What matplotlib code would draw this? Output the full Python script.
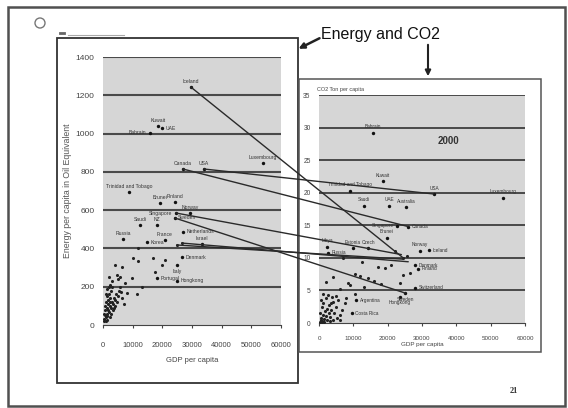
import matplotlib
matplotlib.use("Agg")
import matplotlib.pyplot as plt
from matplotlib.patches import Rectangle, Circle, FancyArrowPatch, ConnectionPatch

plt.rcParams['font.family'] = ['Liberation Sans', 'DejaVu Sans']

# ---- data: energy use (left, oil eq. per capita) vs GDP per capita
left_names = ["Iceland", "Kuwait", "UAE", "Bahrain", "Canada", "USA", "Luxembourg",
              "Trinidad and Tobago", "Brunei", "Finland", "Singapore", "Norway",
              "Saudi", "NZ", "Sweden", "Netherlands", "Russia", "Korea", "France",
              "Israel", "Denmark", "Italy", "Portugal", "Hongkong"]
left_gdp = [29600, 18500, 19900, 15800, 26900, 34000, 53900, 8750, 19200, 24200,
            24600, 29300, 12500, 18200, 24200, 27000, 6700, 14800, 20900, 33300,
            26600, 24900, 18200, 24900]
left_energy = [1243, 1039, 1029, 1003, 815, 815, 846, 694, 637, 642, 585, 585,
               522, 522, 559, 486, 449, 433, 444, 423, 355, 313, 245, 230]
left_align = ['a', 'a', 'r', 'l', 'a', 'a', 'a', 'a', 'a', 'a', 'l', 'a',
              'a', 'a', 'r', 'r', 'a', 'r', 'a', 'a', 'r', 'b', 'r', 'r']

other_gdp = [24900, 26600, 11800, 10100, 11800, 16800, 20900, 19900, 17500, 4000,
             6400, 5700, 9800, 7400, 2400, 13100, 5700, 11400, 8000,
             500, 700, 900, 1200, 1500, 1800, 2000, 2300, 2600, 3000, 3300, 3600,
             4000, 4500, 5000, 5500, 6000, 800, 1000, 1400, 1700, 2100, 2500, 2800,
             3200, 400, 600, 1100, 1300, 1600, 2200, 2700, 3500, 4200, 900, 1900,
             3800, 4800, 300, 1500, 2400, 6500, 7000, 3000, 5200, 1200, 4600, 2000]
other_energy = [418, 428, 402, 350, 334, 350, 340, 313, 277, 313,
                303, 251, 245, 219, 209, 198, 198, 162, 168,
                30, 50, 40, 60, 45, 80, 70, 100, 90, 120, 110, 140,
                130, 160, 150, 180, 170, 100, 120, 150, 130, 160, 140, 180,
                200, 60, 80, 20, 90, 110, 40, 60, 80, 100, 160, 200,
                90, 120, 20, 25, 120, 140, 110, 230, 240, 190, 260, 250]

# ---- data: CO2 tons per capita (right, year 2000) vs GDP per capita
right_names = ["Bahrain", "Kuwait", "Trinidad and Tobago", "USA", "Luxembourg",
               "Saudi", "UAE", "Australia", "Singapore", "Canada", "Brunei",
               "Libya", "Estonia", "Czech", "Russia", "Norway", "Iceland",
               "Denmark", "Finland", "Switzerland", "Sweden", "Hongkong",
               "Argentina", "Costa Rica"]
right_gdp = [15700, 18600, 9000, 33500, 53600, 13100, 20400, 25400, 22700, 26000,
             19800, 2300, 9900, 14300, 2600, 29400, 32100, 28000, 28900, 28000,
             25100, 23600, 10800, 9600]
right_co2 = [29.2, 21.8, 20.3, 19.8, 19.2, 18.0, 18.0, 17.8, 14.9, 14.8,
             13.1, 11.7, 11.5, 11.5, 10.8, 11.1, 11.2, 8.9, 8.3, 5.4,
             4.6, 4.0, 3.5, 1.5]
right_align = ['a', 'a', 'a', 'a', 'a', 'a', 'a', 'a', 'l', 'r', 'a',
               'a', 'a', 'a', 'r', 'a', 'r', 'r', 'r', 'r', 'b', 'b', 'r', 'r']

rother_gdp = [7000, 12500, 17200, 19200, 21000, 4100, 2000, 8500, 12000, 14300,
              23600, 24500, 26500, 16000, 10500, 22000, 24500, 25500, 6000, 9000,
              13000, 18000, 5000, 8000, 10500, 3500,
              300, 500, 700, 1000, 1200, 1500, 1800, 2000, 2400, 2800, 3000, 3300,
              3600, 4000, 4500, 5000, 5500, 6000, 800, 1300, 2100, 2600, 3800,
              6800, 7500, 400, 900, 1600, 2300, 3100, 4200, 5200, 6200, 1100, 600]
rother_co2 = [10.0, 9.4, 8.6, 8.5, 8.9, 7.1, 6.3, 6.1, 7.2, 6.9,
              6.1, 7.4, 7.7, 6.5, 7.5, 11.0, 10.0, 10.3, 5.2, 5.8,
              5.5, 6.0, 4.2, 3.8, 4.4, 3.0,
              0.2, 0.5, 0.8, 0.3, 1.2, 0.6, 1.8, 1.0, 2.2, 1.5, 2.8, 0.9,
              2.0, 3.2, 1.6, 2.5, 3.5, 1.2, 2.5, 3.0, 3.8, 4.3, 4.0,
              2.0, 3.0, 1.5, 0.1, 0.2, 0.4, 0.3, 0.5, 0.8, 0.4, 4.5, 3.6]

# lines joining the same country in both charts
link_gdp_a = [29600, 34000, 26900, 24600, 24200, 24900, 26600]
link_energy_a = [1243, 815, 815, 585, 559, 418, 428]
link_gdp_b = [24500, 33500, 26000, 24000, 25100, 24500, 26000]
link_co2_b = [10.0, 19.8, 14.8, 10.5, 4.6, 9.8, 9.4]

gdp_ticks = [0, 10000, 20000, 30000, 40000, 50000, 60000]
energy_ticks = list(range(0, 1401, 200))
co2_ticks = list(range(0, 36, 5))

W, H = 568, 408


def px(x0, y0, x1, y1):
    return [x0 / W, 1 - y1 / H, (x1 - x0) / W, (y1 - y0) / H]


fig = plt.figure(figsize=(W / 100, H / 100), dpi=100, facecolor='white')

bg = fig.add_axes([0, 0, 1, 1])
bg.set_xlim(0, W)
bg.set_ylim(H, 0)
bg.axis('off')

# slide frame and chart boxes
bg.add_patch(Rectangle((8, 7), 557, 399, fill=False, ec='#505050', lw=1.8))
bg.add_patch(Rectangle((57, 38), 241, 345, fc='white', ec='#333333', lw=1.3))
bg.add_patch(Rectangle((299, 79), 242, 273, fc='white', ec='#555555', lw=1.1))
bg.add_patch(Circle((40, 23), 5, fill=False, ec='#777777', lw=1.0))
bg.plot([60, 64], [33, 33], color='#666666', lw=2)
bg.plot([68, 124], [35, 35], color='#aaaaaa', lw=0.8)

bg.text(321, 34, "Energy and CO2", fontsize=11.5, va='center', ha='left', color='#111111')
bg.add_patch(FancyArrowPatch((428, 42), (428, 79), arrowstyle='-|>', mutation_scale=8,
                             color='#222222', lw=1.5))
bg.add_patch(FancyArrowPatch((322, 37), (296, 50), arrowstyle='-|>', mutation_scale=8,
                             color='#222222', lw=1.8))
bg.text(514, 391, "21", fontsize=6, fontweight='bold', family='Liberation Serif',
        ha='center', va='center', color='#333333')

plot_bg = '#d6d6d6'
grid_col = '#4a4a4a'
lab_col = '#333333'


def place(ax, names, xs, ys, aligns, size):
    for n, x, y, a in zip(names, xs, ys, aligns):
        if a == 'a':
            off, ha, va = (0, 2.5), 'center', 'bottom'
        elif a == 'b':
            off, ha, va = (0, -2.5), 'center', 'top'
        elif a == 'r':
            off, ha, va = (2.5, 0), 'left', 'center'
        else:
            off, ha, va = (-2.5, 0), 'right', 'center'
        ax.annotate(n, (x, y), xytext=off, textcoords='offset points',
                    ha=ha, va=va, fontsize=size, color=lab_col)


# ---- left chart
axL = fig.add_axes(px(103, 57, 281, 325))
axL.set_facecolor(plot_bg)
axL.set_xlim(0, 60000)
axL.set_ylim(0, 1400)
for v in energy_ticks[1:]:
    axL.axhline(v, color=grid_col, lw=1.5, zorder=1)
axL.scatter(other_gdp, other_energy, s=5, color='#222222', zorder=3, lw=0)
axL.scatter(left_gdp, left_energy, s=6, color='#111111', zorder=3, lw=0)
place(axL, left_names, left_gdp, left_energy, left_align, 3.6)
for s in ['top', 'right', 'left']:
    axL.spines[s].set_visible(False)
axL.spines['bottom'].set_color('#444444')
axL.set_xticks(gdp_ticks)
axL.set_yticks(energy_ticks)
axL.tick_params(axis='x', length=2, pad=10, labelsize=5.5, colors='#444444')
axL.tick_params(axis='y', length=0, pad=6, labelsize=6, colors='#444444')
axL.set_xlabel("GDP per capita", fontsize=5.5, color='#444444', labelpad=6)
axL.set_ylabel("Energy per capita in Oil Equivalent", fontsize=6.3, color='#555555',
               labelpad=3)

# ---- right chart
axR = fig.add_axes(px(319, 95, 525, 323))
axR.set_facecolor(plot_bg)
axR.set_xlim(0, 60000)
axR.set_ylim(0, 35)
for v in co2_ticks[1:]:
    axR.axhline(v, color=grid_col, lw=1.4, zorder=1)
axR.scatter(rother_gdp, rother_co2, s=5, color='#222222', zorder=3, lw=0)
axR.scatter(right_gdp, right_co2, s=6, color='#111111', zorder=3, lw=0)
place(axR, right_names, right_gdp, right_co2, right_align, 3.4)
for s in ['top', 'right', 'left']:
    axR.spines[s].set_visible(False)
axR.spines['bottom'].set_color('#444444')
axR.set_xticks(gdp_ticks)
axR.set_yticks(co2_ticks)
axR.tick_params(axis='x', length=2, pad=7, labelsize=4.5, colors='#444444')
axR.tick_params(axis='y', length=0, pad=6, labelsize=4.8, colors='#444444')
axR.set_xlabel("GDP per capita", fontsize=4.5, color='#444444', labelpad=1)
axR.text(-0.01, 1.015, "CO2 Ton per capita", transform=axR.transAxes, fontsize=4,
         color='#444444', ha='left', va='bottom')
axR.text(0.63, 0.80, "2000", transform=axR.transAxes, fontsize=7, fontweight='bold',
         color='#333333', ha='center', va='center')

# ---- connecting lines between the two charts
for xa, ya, xb, yb in zip(link_gdp_a, link_energy_a, link_gdp_b, link_co2_b):
    con = ConnectionPatch(xyA=(xa, ya), coordsA='data', axesA=axL,
                          xyB=(xb, yb), coordsB='data', axesB=axR,
                          color='#2a2a2a', lw=1.0)
    fig.add_artist(con)

fig.savefig('out.png', dpi=100, facecolor='white')
